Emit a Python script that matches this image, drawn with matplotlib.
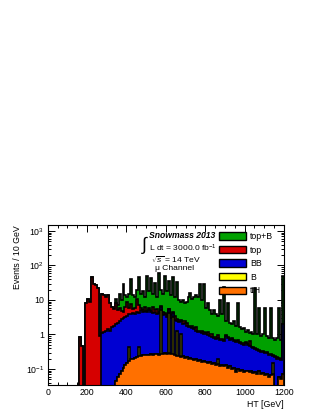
import numpy as np
import matplotlib
matplotlib.use("Agg")
import matplotlib.pyplot as plt
from matplotlib.patches import Patch
from matplotlib.ticker import MultipleLocator, LogLocator, FixedLocator, FixedFormatter, NullFormatter

plt.rcParams['font.family'] = ['Liberation Sans', 'DejaVu Sans']
plt.rcParams['mathtext.fontset'] = 'custom'
plt.rcParams['mathtext.rm'] = 'Liberation Sans'
plt.rcParams['mathtext.it'] = 'Liberation Sans:italic'
plt.rcParams['mathtext.bf'] = 'Liberation Sans:bold'

# ---------------- data (HT bins of 10 GeV, 0..1200) ----------------
bin_edges_gev = list(range(0, 1210, 10))

ttH = [0]*34 + [
    0.045, 0.06, 0.07, 0.09, 0.11, 0.13, 0.15, 0.17, 0.19, 0.20,
    0.21, 0.22, 0.23, 0.24, 0.25, 0.25, 0.26, 0.25, 0.27, 0.26,
    0.28, 0.27, 0.26, 0.28, 0.27, 0.29, 0.28, 0.30, 0.27, 0.28,
    0.25, 0.23, 0.24, 0.22, 0.23, 0.21, 0.22, 0.20, 0.21, 0.19,
    0.18, 0.19, 0.17, 0.18, 0.16, 0.17, 0.16, 0.15, 0.16, 0.14,
    0.15, 0.13, 0.14, 0.12, 0.13, 0.12, 0.13, 0.11, 0.12, 0.10,
    0.11, 0.08, 0.10, 0.09, 0.095, 0.08, 0.09, 0.085, 0.08, 0.09,
    0.075, 0.08, 0.07, 0.085, 0.07, 0.075, 0.065, 0.07, 0.06, 0.065,
    0.07, 0.03, 0.03, 0.06, 0.05, 0.07]

B = [0.0]*120
B_spikes = {41: 0.25, 46: 0.2, 57: 5.0, 61: 4.0, 63: 3.0, 65: 1.0, 67: 0.8, 86: 0.05, 114: 0.08}
for k, v in B_spikes.items():
    B[k] = v

BB = [0]*27 + [
    1.1, 1.2, 1.3, 1.4, 1.3, 1.6, 1.8, 1.95, 2.14, 2.43,
    2.71, 2.89, 3.17, 3.35, 3.58, 3.61, 4.1, 3.79, 4.38, 3.77,
    4.76, 4.35, 4.55, 4.14, 4.75, 4.23, 3.94, 4.32, 3.73, 3.94,
    1.0, 3.33, 3.51, 3.02, 1.0, 2.73, 0.8, 2.45, 1.27, 2.06,
    1.38, 1.77, 1.89, 1.58, 1.5, 1.39, 1.31, 1.22, 1.11, 1.03,
    0.97, 0.94, 0.88, 0.84, 0.8, 0.74, 0.71, 0.65, 0.62, 0.59,
    0.58, 0.55, 0.53, 0.77, 0.69, 0.58, 0.65, 0.54, 0.52, 0.52,
    0.46, 0.43, 0.42, 0.46, 0.40, 0.37, 0.33, 0.33, 0.30, 0.29,
    0.25, 0.25, 0.23, 0.22, 0.23, 0.20, 0.19, 0.09, 0.19, 0.17,
    0.13, 0.13, 1.93]

top = [0]*16 + [
    0.85, 0.45, 0, 8, 11, 9, 47, 30, 27, 22,
    0.9, 14, 13, 11, 13, 7, 4.5, 3.5, 6, 3,
    3.5, 2, 1.5, 3, 5, 2, 4, 1, 2, 6,
    3, 1, 0.5, 1.5, 0.5, 1, 0.3, 2, 0.5, 1.5,
    0.3, 0.5, 1, 0.3, 0.4, 0.3, 0.6, 0.3, 0.8, 0.3,
    0.4, 0.2, 0.5, 0.3, 0.4, 0.1, 0.2, 0.3, 0.1, 0.3,
    0.1, 0.1, 0.2, 0.1, 0.1, 0.25, 0.1, 0.2, 0.05, 0.1,
    0.2, 0.05, 0.05, 0.05, 0.05, 0.05, 0.05, 0.05, 0.05, 0.05,
    0.05, 0.05, 0.05, 0.05, 0.05, 0.05, 0.2, 0.02, 0.02, 0.02,
    0.02, 0.02, 0.02, 0.02, 0.02, 0.02, 0.02, 0.02, 0.02, 0.02,
    0.02, 0.02, 0.02, 0.02]

topB = [0]*34 + [
    3, 2, 9, 5.2, 25.5, 7.7, 3.5, 9, 32, 8.7,
    6, 9.4, 40, 9, 13, 5.7, 45, 12, 40, 8.8,
    25, 6.5, 55, 13, 10.4, 46, 14.3, 29, 10.4, 40.6,
    8.5, 30, 7.3, 6.4, 7.5, 5.6, 6.8, 10.2, 14.2, 9.2,
    10.5, 12.4, 10.7, 28.7, 8.7, 28.8, 4.9, 6.8, 4, 2.95,
    4.15, 3.15, 2.5, 9.25, 3.27, 23.3, 1.55, 7.15, 1.45, 1.2,
    1.8, 1.15, 7.3, 1.0, 0.83, 0.95, 0.6, 0.77, 0.45, 0.76,
    0.58, 21.6, 0.62, 5.65, 0.56, 0.68, 5.7, 0.58, 0.52, 5.73,
    0.54, 0.46, 0.58, 5.79, 0.5, 48]

series_names = ["ttH", "B", "BB", "top", "top+B"]
series_colors = ["#ff7000", "#ffff00", "#0000d2", "#d60000", "#00a000"]

# ---------------- figure ----------------
fig = plt.figure(figsize=(3.23, 4.18), dpi=100)
ax = fig.add_axes([47.7/323, 33/418, (284-47.7)/323, 160/418])

edges = np.array(bin_edges_gev, dtype=float)
stack = np.vstack([ttH, B, BB, top, topB]).astype(float)
cum = np.cumsum(stack, axis=0)
floor = 0.03

for k in reversed(range(len(series_names))):
    vals = np.clip(cum[k], floor, None)
    ax.stairs(vals, edges, baseline=floor, fill=True,
              facecolor=series_colors[k], edgecolor='none', zorder=2)
    ax.stairs(vals, edges, baseline=floor, fill=False,
              color='black', lw=1.2, zorder=2)

ax.set_yscale('log')
ax.set_xlim(0, 1200)
ax.set_ylim(0.0343, 1490)

ax.xaxis.set_major_locator(MultipleLocator(200))
ax.xaxis.set_minor_locator(MultipleLocator(50))
ax.yaxis.set_major_locator(FixedLocator([0.1, 1, 10, 100, 1000]))
ax.yaxis.set_major_formatter(FixedFormatter([r'$10^{-1}$', '1', '10', r'$10^{2}$', r'$10^{3}$']))
ax.yaxis.set_minor_locator(LogLocator(base=10, subs=np.arange(2, 10), numticks=20))
ax.yaxis.set_minor_formatter(NullFormatter())

ax.tick_params(which='both', direction='in', top=True, right=True, labelsize=6.3,
               width=0.7, colors='black')
ax.tick_params(which='major', length=5, pad=2.5)
ax.tick_params(which='minor', length=2.5)
for s in ax.spines.values():
    s.set_linewidth(0.8)

ax.set_xlabel('HT [GeV]', fontsize=6.3, ha='right', x=1.0, labelpad=2)
ax.set_ylabel('Events / 10 GeV', fontsize=6.3, ha='right', y=1.0, labelpad=3)

# legend
handles = [Patch(facecolor=series_colors[k], edgecolor='black', linewidth=1.0)
           for k in reversed(range(len(series_names)))]
labels = list(reversed(series_names))
fig.legend(handles, labels, loc='upper left', bbox_to_anchor=(219/323, 1-232/418),
           frameon=False, fontsize=6.3, handlelength=3.1, handleheight=0.9,
           handletextpad=0.45, labelspacing=0.52, borderpad=0, borderaxespad=0)

# annotations
fig.text(141/323, 1-245/418, r'$\int$', fontsize=13, ha='left', va='center')
fig.text(149/323, 1-236/418, 'Snowmass 2013', fontsize=6.2, fontweight='bold',
         fontstyle='italic', ha='left', va='center')
fig.text(149/323, 1-248/418, r'L dt = 3000.0 fb$^{-1}$', fontsize=6.1, ha='left', va='center')
fig.text(151/323, 1-259.5/418, r'$\sqrt{s}$ = 14 TeV', fontsize=6.1, ha='left', va='center')
fig.text(155/323, 1-268/418, 'μ Channel', fontsize=6.1, ha='left', va='center')

fig.savefig('out.png', dpi=100)
